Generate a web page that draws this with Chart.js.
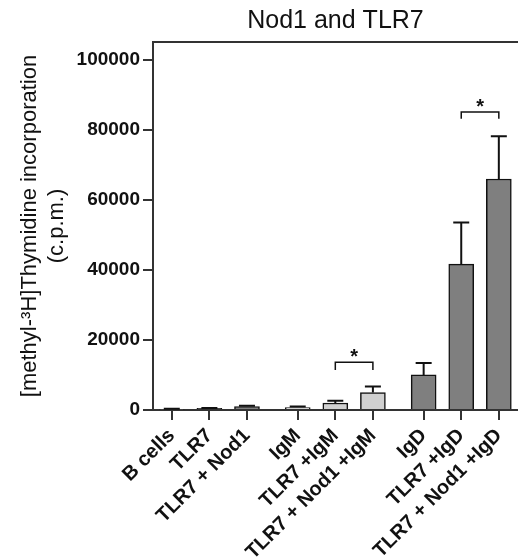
<!DOCTYPE html>
<html>
<head>
<meta charset="utf-8">
<script src="https://cdn.jsdelivr.net/npm/chart.js"></script>
<style>
html, body { margin: 0; padding: 0; background: #fff; overflow: hidden; }
#wrap { width: 518px; height: 560px; }
</style>
</head>
<body>
<div id="wrap"><canvas id="chart" width="518" height="560"></canvas></div>
<script>
// Categories and where they sit on the x axis (groups are separated by a gap)
const categories = ['B cells', 'TLR7', 'TLR7 + Nod1', 'IgM', 'TLR7 +IgM', 'TLR7 + Nod1 +IgM', 'IgD', 'TLR7 +IgD', 'TLR7 + Nod1 +IgD'];
const positions = [0, 1, 2, 3.35, 4.35, 5.35, 6.7, 7.7, 8.7];

// Mean c.p.m. and upper error (SEM)
const means = [250, 450, 1000, 700, 2000, 5000, 10000, 41600, 65900];
const errors = [80, 100, 200, 300, 650, 1700, 3400, 11900, 12200];

const barColors = ['#7f7f7f', '#7f7f7f', '#7f7f7f', '#d0d0d0', '#d0d0d0', '#d0d0d0', '#7f7f7f', '#7f7f7f', '#7f7f7f'];
const yTicks = [0, 20000, 40000, 60000, 80000, 100000];

// Significance brackets
const sigFrom = [4.35, 7.7];
const sigTo = [5.35, 8.7];
const sigLevel = [13600, 85000];
const sigDrop = [2200, 1900];
const sigLabel = ['*', '*'];

const textColor = '#111';
const axisColor = '#333';
const fontFamily = '"Liberation Sans", Arial, sans-serif';

// Рисуем планки погрешностей и скобки значимости
const errorBarPlugin = {
    id: 'errorBars',
    afterDatasetsDraw(chart) {
        const { ctx } = chart;
        const x = chart.scales.x;
        const y = chart.scales.y;
        ctx.save();
        ctx.strokeStyle = '#111';
        ctx.lineWidth = 2;
        positions.forEach((pos, i) => {
            const px = x.getPixelForValue(pos);
            const yBar = y.getPixelForValue(means[i]);
            const yTop = y.getPixelForValue(means[i] + errors[i]);
            ctx.beginPath();
            ctx.moveTo(px, yBar);
            ctx.lineTo(px, yTop);
            ctx.moveTo(px - 8, yTop);
            ctx.lineTo(px + 8, yTop);
            ctx.stroke();
        });

        ctx.lineWidth = 1.5;
        ctx.fillStyle = textColor;
        ctx.font = 'bold 20px ' + fontFamily;
        ctx.textAlign = 'center';
        ctx.textBaseline = 'alphabetic';
        for (let i = 0; i < sigFrom.length; i++) {
            const x1 = x.getPixelForValue(sigFrom[i]);
            const x2 = x.getPixelForValue(sigTo[i]);
            const yl = y.getPixelForValue(sigLevel[i]);
            const yd = y.getPixelForValue(sigLevel[i] - sigDrop[i]);
            ctx.beginPath();
            ctx.moveTo(x1, yd);
            ctx.lineTo(x1, yl);
            ctx.lineTo(x2, yl);
            ctx.lineTo(x2, yd);
            ctx.stroke();
            ctx.fillText(sigLabel[i], (x1 + x2) / 2, yl + 1);
        }
        ctx.restore();
    }
};

const ctx = document.getElementById('chart').getContext('2d');
new Chart(ctx, {
    type: 'bar',
    data: {
        datasets: [{
            data: positions.map((p, i) => ({ x: p, y: means[i] })),
            backgroundColor: barColors,
            borderColor: '#111',
            borderWidth: 1.5,
            barThickness: 25
        }]
    },
    options: {
        responsive: false,
        animation: false,
        layout: { padding: 0 },
        plugins: {
            legend: { display: false },
            title: { display: false },
            tooltip: { enabled: false }
        },
        scales: {
            x: {
                type: 'linear',
                offset: false,
                min: -0.5,
                max: 9.21,
                afterBuildTicks: s => { s.ticks = positions.map(v => ({ value: v })); },
                afterFit: s => { s.height = 150; s.paddingRight = 0; s.paddingLeft = 0; },
                ticks: {
                    autoSkip: false,
                    maxRotation: 45,
                    minRotation: 45,
                    padding: 4,
                    color: textColor,
                    font: { family: fontFamily, size: 20, weight: 'bold' },
                    callback: (v, i) => categories[i]
                },
                grid: { offset: false, drawOnChartArea: false, tickLength: 10, color: axisColor, lineWidth: 2 },
                border: { color: axisColor, width: 2 }
            },
            x2: {
                type: 'linear',
                position: 'top',
                offset: false,
                min: -0.5,
                max: 9.21,
                afterFit: s => { s.height = 42; },
                ticks: { display: false },
                grid: { display: false },
                border: { display: true, color: axisColor, width: 2 },
                title: {
                    display: true,
                    text: 'Nod1 and TLR7',
                    color: textColor,
                    padding: { top: 6, bottom: 0 },
                    font: { family: fontFamily, size: 25, weight: 'normal' }
                }
            },
            y: {
                min: 0,
                max: 105000,
                afterBuildTicks: s => { s.ticks = yTicks.map(v => ({ value: v })); },
                afterFit: s => { s.width = 153; },
                ticks: {
                    padding: 3,
                    color: textColor,
                    font: { family: fontFamily, size: 19, weight: 'bold' },
                    callback: v => String(v)
                },
                grid: { drawOnChartArea: false, tickLength: 10, color: axisColor, lineWidth: 2 },
                border: { color: axisColor, width: 2 },
                title: {
                    display: true,
                    text: ['[methyl-³H]Thymidine incorporation', '(c.p.m.)'],
                    color: textColor,
                    padding: { top: 16, bottom: 0 },
                    font: { family: fontFamily, size: 22, weight: 'normal', lineHeight: 1.23 }
                }
            }
        }
    },
    plugins: [errorBarPlugin]
});
</script>
</body>
</html>
